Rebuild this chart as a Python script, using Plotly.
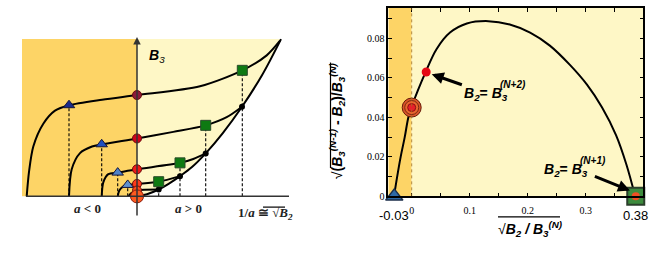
import plotly.graph_objects as go

W, H = 654, 260
def PX(x): return x / W
def PY(y): return 1 - y / H

# ---------------- Left panel (schematic): u = 1/a ≅ sqrt(B2), v = B3 ----------------
env_u = [0, 0.1, 0.217, 0.32, 0.43, 0.55, 0.687, 0.86, 1.05, 1.25, 1.44]
env_v = [0, 0.022, 0.07, 0.13, 0.207, 0.3, 0.44, 0.65, 0.917, 1.24, 1.61]

curves_u = [
    [-1.103, -1.08, -1.037, -0.937, -0.82, -0.68, -0.35, 0, 0.63, 1.053, 1.297, 1.43],
    [-0.68, -0.653, -0.57, -0.45, -0.353, 0, 0.363, 0.687, 0.897, 1.05],
    [-0.353, -0.337, -0.287, -0.193, 0, 0.43, 0.563, 0.687],
    [-0.193, -0.177, -0.14, -0.093, 0, 0.217, 0.43],
    [-0.087, -0.053, 0, 0.217],
]
curves_v = [
    [0, 0.25, 0.51, 0.743, 0.877, 0.933, 0.99, 1.037, 1.127, 1.29, 1.443, 1.593],
    [0, 0.277, 0.443, 0.51, 0.533, 0.593, 0.66, 0.727, 0.81, 0.917],
    [0, 0.143, 0.227, 0.243, 0.277, 0.343, 0.383, 0.44],
    [0, 0.06, 0.1, 0.117, 0.127, 0.15, 0.207],
    [0, 0.035, 0.06, 0.07],
]
tri_u = [-0.68, -0.353, -0.193, -0.093]
tri_v = [0.933, 0.533, 0.243, 0.117]
tri_col = ["#1A2A8C", "#1F4FBF", "#4F82C8", "#5E90D0"]
sq_u = [1.053, 0.687, 0.43, 0.217]
sq_v = [1.29, 0.727, 0.343, 0.15]
dot_u = [1.05, 0.687, 0.43, 0.217]
dot_v = [0.917, 0.44, 0.207, 0.07]
circ_v = [1.037, 0.593, 0.277, 0.127, 0.06]
circ_col = ["#8B1A3A", "#D0021B", "#F01818", "#FF3A1A", "#FF4A1A"]
big_circ_v = [0.0]

# ---------------- Right panel ----------------
rx = [-0.0305, -0.025, -0.019, -0.012, -0.0058, 0.0, 0.0247, 0.043, 0.066, 0.095, 0.132,
      0.169, 0.204, 0.238, 0.273, 0.302, 0.328, 0.352, 0.37, 0.385]
ry = [0.0, 0.01, 0.02, 0.03, 0.04, 0.0455, 0.0635, 0.0747, 0.083, 0.0876, 0.0888,
      0.0871, 0.083, 0.0764, 0.0665, 0.0566, 0.045, 0.031, 0.016, 0.0]
tri_pt = (-0.03, 0.0)
ring_pt = (0.0, 0.045)
red_pt = (0.025, 0.063)
sq_pt = (0.386, 0.0)
xt_vals = [0, 0.05, 0.1, 0.15, 0.2, 0.25, 0.3, 0.35]
xt_text = ["0", "", "0.1", "", "0.2", "", "0.3", ""]
yt_vals = [0, 0.01, 0.02, 0.03, 0.04, 0.05, 0.06, 0.07, 0.08, 0.09]
yt_text = ["0", "", "0.02", "", "0.04", "", "0.06", "", "0.08", ""]

ORANGE = "#FDD466"
LIGHT = "#FEF7C6"

fig = go.Figure()

fig.add_trace(go.Scatter(x=env_u, y=env_v, mode="lines", line=dict(color="black", width=2, shape="spline"),
                         fill="tozeroy", fillcolor="white", xaxis="x", yaxis="y"))
for u, v in list(zip(tri_u, tri_v)) + list(zip(sq_u, sq_v)):
    fig.add_trace(go.Scatter(x=[u, u], y=[0, v], mode="lines",
                             line=dict(color="black", width=1.1, dash="3px,2px"), xaxis="x", yaxis="y"))
for cu, cv in zip(curves_u, curves_v):
    fig.add_trace(go.Scatter(x=cu, y=cv, mode="lines", line=dict(color="black", width=2, shape="spline", smoothing=0.8),
                             xaxis="x", yaxis="y"))
fig.add_trace(go.Scatter(x=dot_u, y=dot_v, mode="markers", marker=dict(size=6, color="black"), xaxis="x", yaxis="y"))
fig.add_trace(go.Scatter(x=sq_u, y=sq_v, mode="markers",
                         marker=dict(symbol="square", size=10, color="#0E7A12", line=dict(color="#2A4A2A", width=1)),
                         xaxis="x", yaxis="y"))
fig.add_trace(go.Scatter(x=tri_u, y=tri_v, mode="markers",
                         marker=dict(symbol="triangle-up", size=10, color=tri_col, line=dict(color="#15153A", width=1)),
                         xaxis="x", yaxis="y"))
fig.add_trace(go.Scatter(x=[0] * len(circ_v), y=circ_v, mode="markers",
                         marker=dict(size=9, color=circ_col, line=dict(color="#6A0A0A", width=1)),
                         xaxis="x", yaxis="y", cliponaxis=False))
fig.add_trace(go.Scatter(x=[0], y=big_circ_v, mode="markers",
                         marker=dict(size=13, color="#FF5A1F", line=dict(color="#8A1A0A", width=1)),
                         xaxis="x", yaxis="y", cliponaxis=False))

fig.add_trace(go.Scatter(x=rx, y=ry, mode="lines", line=dict(color="black", width=2, shape="spline"),
                         xaxis="x2", yaxis="y2"))
fig.add_trace(go.Scatter(x=[tri_pt[0]], y=[tri_pt[1]], mode="markers",
                         marker=dict(symbol="triangle-up", size=15, color="#2F6AA6", line=dict(color="#1B2E4A", width=1.5)),
                         xaxis="x2", yaxis="y2", cliponaxis=False))
for s, c, lc in [(19, "#D9552A", "#6A1A08"), (14, "#E8662E", "#7A2A10"), (8, "#E8202A", "#8B1010")]:
    fig.add_trace(go.Scatter(x=[ring_pt[0]], y=[ring_pt[1]], mode="markers",
                             marker=dict(size=s, color=c, line=dict(color=lc, width=1)),
                             xaxis="x2", yaxis="y2", cliponaxis=False))
fig.add_trace(go.Scatter(x=[red_pt[0]], y=[red_pt[1]], mode="markers",
                         marker=dict(size=9, color="#E50914"), xaxis="x2", yaxis="y2"))
fig.add_trace(go.Scatter(x=[sq_pt[0]], y=[sq_pt[1]], mode="markers",
                         marker=dict(symbol="square", size=17, color="#3D8B3D", line=dict(color="#2B3F2B", width=2)),
                         xaxis="x2", yaxis="y2", cliponaxis=False))
fig.add_trace(go.Scatter(x=[sq_pt[0]], y=[sq_pt[1]], mode="markers",
                         marker=dict(size=8, color="#F04E23"), xaxis="x2", yaxis="y2", cliponaxis=False))

shapes = [
    dict(type="rect", xref="x", yref="y", x0=-1.15, x1=0, y0=0, y1=1.61, fillcolor=ORANGE, line_width=0, layer="below"),
    dict(type="rect", xref="x", yref="y", x0=0, x1=1.44, y0=0, y1=1.61, fillcolor=LIGHT, line_width=0, layer="below"),
    dict(type="line", xref="x", yref="y", x0=-1.11, x1=1.52, y0=0, y1=0, line=dict(color="#333", width=1.5)),
    dict(type="rect", xref="x2", yref="y2", x0=-0.0403, x1=0, y0=0, y1=0.0954, fillcolor=ORANGE, line_width=0, layer="below"),
    dict(type="rect", xref="x2", yref="y2", x0=0, x1=0.399, y0=0, y1=0.0954, fillcolor=LIGHT, line_width=0, layer="below"),
    dict(type="line", xref="x2", yref="y2", x0=0, x1=0, y0=0, y1=0.0954, line=dict(color="#A07020", width=0.8, dash="dot")),
    dict(type="line", xref="paper", yref="paper", x0=PX(263), x1=PX(285), y0=PY(212), y1=PY(212), line=dict(color="black", width=1.2)),
    dict(type="line", xref="paper", yref="paper", x0=PX(498), x1=PX(560), y0=PY(222), y1=PY(222), line=dict(color="black", width=1.2)),
    dict(type="line", xref="paper", yref="paper", x0=PX(330.5), x1=PX(330.5), y0=PY(172), y1=PY(64), line=dict(color="black", width=1.2)),
]

BI = "Liberation Sans"
SER = "Liberation Serif"

def txt(x, y, text, font, xanchor="center", angle=0):
    return dict(x=x, y=y, xref="paper", yref="paper", xanchor=xanchor, yanchor="middle", showarrow=False,
                text=text, font=font, textangle=angle)

ann = [
    dict(x=0, y=1.63, xref="x", yref="y", ax=0, ay=-0.21, axref="x", ayref="y", showarrow=True,
         arrowhead=2, arrowsize=1, arrowwidth=1.5, arrowcolor="#333", text=""),
    txt(PX(147), PY(57), "<b><i>B</i></b><sub><i>3</i></sub>", dict(family=BI, size=14, color="black"), "left"),
    txt(PX(88), PY(213), "<b><i>a</i> &lt; 0</b>", dict(family=SER, size=13, color="#222")),
    txt(PX(188), PY(213), "<b><i>a</i> &gt; 0</b>", dict(family=SER, size=13, color="#222")),
    txt(PX(236), PY(219), "<b>1/<i>a</i> ≅ </b>√<b><i>B</i></b><sub><b><i>2</i></b></sub>",
        dict(family=SER, size=13, color="#222"), "left"),
    txt(PX(462), PY(96), "<b><i>B</i></b><sub><b><i>2</i></b></sub><b>= <i>B</i></b><sub><b><i>3</i></b></sub>",
        dict(family=BI, size=14, color="black"), "left"),
    txt(PX(498), PY(86), "<b><i>(N+2)</i></b>", dict(family=BI, size=10, color="black"), "left"),
    txt(PX(542), PY(174), "<b><i>B</i></b><sub><b><i>2</i></b></sub><b>= <i>B</i></b><sub><b><i>3</i></b></sub>",
        dict(family=BI, size=14, color="black"), "left"),
    txt(PX(578), PY(164), "<b><i>(N+1)</i></b>", dict(family=BI, size=10, color="black"), "left"),
    dict(x=0.0345, y=0.0619, xref="x2", yref="y2", ax=0.089, ay=0.0563, axref="x2", ayref="y2",
         showarrow=True, arrowhead=2, arrowsize=0.8, arrowwidth=3, arrowcolor="black", text=""),
    dict(x=0.376, y=0.003, xref="x2", yref="y2", ax=0.313, ay=0.0104, axref="x2", ayref="y2",
         showarrow=True, arrowhead=2, arrowsize=0.8, arrowwidth=3, arrowcolor="black", text=""),
    dict(x=-0.03, y=PY(221), xref="x2", yref="paper", xanchor="center", yanchor="middle", showarrow=False,
         text="-0.03", font=dict(family=BI, size=13, color="black")),
    dict(x=0.385, y=PY(221), xref="x2", yref="paper", xanchor="center", yanchor="middle", showarrow=False,
         text="0.38", font=dict(family=BI, size=13, color="black")),
    txt(PX(496), PY(234),
        "√<b><i>B</i></b><sub><b><i>2</i></b></sub><b><i> / B</i></b><sub><b><i>3</i></b></sub><sup><b><i>(N)</i></b></sup>",
        dict(family=BI, size=14, color="black"), "left"),
    txt(PX(337), PY(124),
        "√<b>(<i>B</i></b><sub><b><i>3</i></b></sub><sup><b><i>(N-1)</i></b></sup><b> - <i>B</i></b><sub><b><i>2</i></b></sub><b>)/<i>B</i></b><sub><b><i>3</i></b></sub><sup><b><i>(N)</i></b></sup>",
        dict(family=BI, size=14, color="black"), "center", -90),
]

fig.update_layout(
    width=W, height=H, margin=dict(l=0, r=0, t=0, b=0),
    paper_bgcolor="white", plot_bgcolor="rgba(0,0,0,0)", showlegend=False,
    shapes=shapes, annotations=ann,
    xaxis=dict(domain=[0, 330 / W], range=[-1.37, 1.93], visible=False, fixedrange=True),
    yaxis=dict(domain=[0, 1], range=[-0.59, 2.01], visible=False, fixedrange=True),
    xaxis2=dict(domain=[388.3 / W, 643.3 / W], range=[-0.0403, 0.399], anchor="y2",
                showline=True, linecolor="black", linewidth=1.5, mirror="ticks", ticks="inside", ticklen=4,
                tickcolor="black", tickvals=xt_vals, ticktext=xt_text, showgrid=False, zeroline=False,
                ticklabelstandoff=4, tickfont=dict(family=SER, size=10, color="black")),
    yaxis2=dict(domain=[(H - 201) / H, (H - 8.3) / H], range=[0, 0.0954], anchor="x2",
                showline=True, linecolor="black", linewidth=1.5, mirror="ticks", ticks="inside", ticklen=4,
                tickcolor="black", tickvals=yt_vals, ticktext=yt_text, showgrid=False, zeroline=False,
                tickfont=dict(family=SER, size=10, color="black")),
)
fig.write_html("out.html", config={"displayModeBar": False},
               post_script="document.body.style.margin='0';document.body.style.overflow='hidden';")
